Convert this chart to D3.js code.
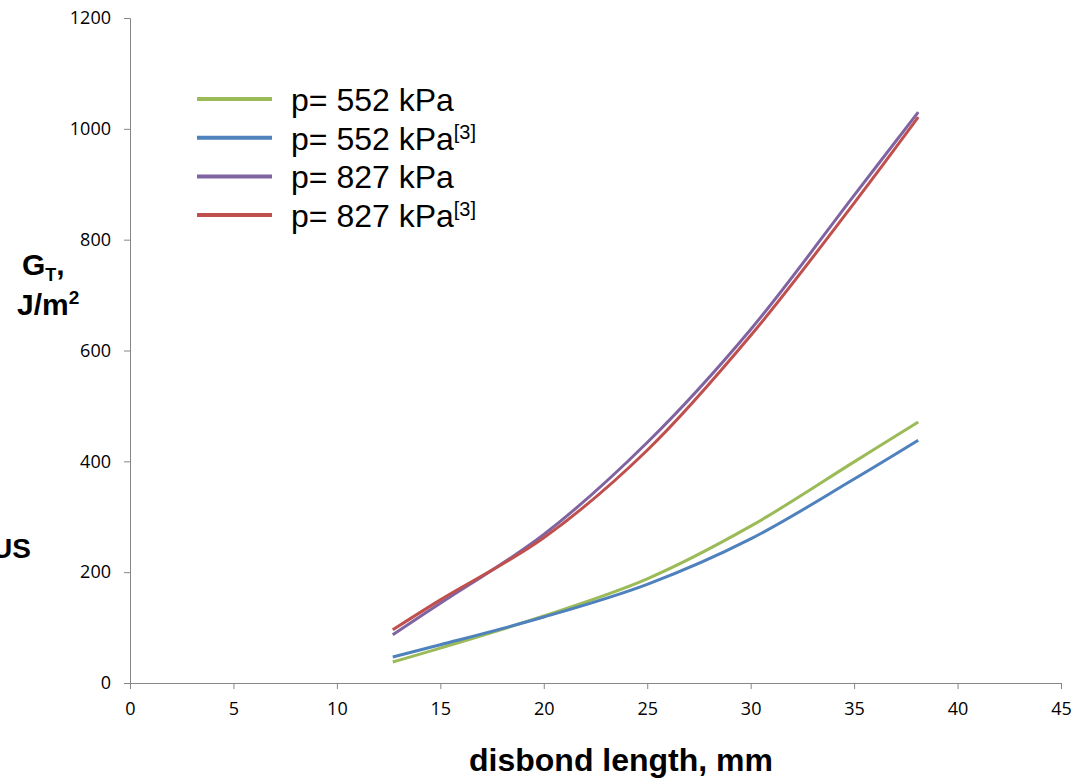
<!DOCTYPE html>
<html>
<head>
<meta charset="utf-8">
<style>
    body { margin: 0; background: #fff; }
    .tick text { font-family: "Open Sans", "Liberation Sans", sans-serif; font-size: 18px; fill: #000; }
    .domain, .tick line { stroke: #868686; }
    .title { font-family: "Liberation Sans", Arial, sans-serif; font-weight: bold; }
    .legend text { font-family: "Liberation Sans", Arial, sans-serif; font-size: 32px; }
</style>
</head>
<body>
<script src="https://cdn.jsdelivr.net/npm/d3@7"></script>
<script>
    // disbond length, mm
    var xs = [12.7, 15, 20, 25, 30, 35, 38.1];

    // G_T, J/m2
    var g552 = [38, 63, 121, 188, 283, 399, 471];
    var g552ref = [47, 69, 119, 178, 260, 368, 438];
    var g827 = [87, 144, 268, 434, 638, 880, 1030];
    var g827ref = [96, 150, 262, 420, 627, 866, 1021];

    var seriesNames = ["p= 552 kPa", "p= 552 kPa", "p= 827 kPa", "p= 827 kPa"];
    var seriesRef = [false, true, false, true];
    var colors = ["#9bbb59", "#4f81bd", "#8064a2", "#c0504d"];
    var xTicks = [0, 5, 10, 15, 20, 25, 30, 35, 40, 45];
    var yTicks = [0, 200, 400, 600, 800, 1000, 1200];

    var width = 1086, height = 780;
    var svg = d3.select("body").append("svg")
        .attr("width", width)
        .attr("height", height);

    var x = d3.scaleLinear().domain([0, 45]).range([130, 1061]);
    var y = d3.scaleLinear().domain([0, 1200]).range([683, 18]);

    svg.append("g")
        .attr("transform", "translate(0," + y(0) + ")")
        .call(d3.axisBottom(x).tickValues(xTicks).tickFormat(d3.format("d")).tickSize(6).tickPadding(13))
        .call(function (g) { g.select(".domain").attr("d", "M130,0.5H1061"); });

    svg.append("g")
        .attr("transform", "translate(" + x(0) + ",0)")
        .call(d3.axisLeft(y).tickValues(yTicks).tickFormat(d3.format("d")).tickSize(6).tickPadding(13))
        .call(function (g) { g.select(".domain").attr("d", "M-6,18.5H0.5V683"); });

    var all = [g552, g552ref, g827, g827ref];
    var line = d3.line()
        .x(function (d, i) { return x(xs[i]); })
        .y(function (d) { return y(d); })
        .curve(d3.curveCatmullRom.alpha(0.5));

    svg.append("g").selectAll("path")
        .data(all)
        .enter().append("path")
        .attr("d", line)
        .attr("fill", "none")
        .attr("stroke", function (d, i) { return colors[i]; })
        .attr("stroke-width", 3);

    // legend
    var legend = svg.append("g").attr("class", "legend");
    seriesNames.forEach(function (name, i) {
        var ly = 99 + i * 38.7;
        legend.append("line")
            .attr("x1", 197).attr("x2", 272)
            .attr("y1", ly).attr("y2", ly)
            .attr("stroke", colors[i])
            .attr("stroke-width", 4);
        var t = legend.append("text")
            .attr("x", 291).attr("y", ly + 12)
            .text(name);
        if (seriesRef[i]) {
            t.append("tspan")
                .attr("dy", -11)
                .attr("font-size", 20)
                .text("[3]");
        }
    });

    // axis titles
    svg.append("text").attr("class", "title")
        .attr("x", 621).attr("y", 771)
        .attr("text-anchor", "middle")
        .attr("font-size", 32)
        .text("disbond length, mm");

    var gt = svg.append("text").attr("class", "title")
        .attr("x", 22).attr("y", 275)
        .attr("font-size", 30);
    gt.append("tspan").text("G");
    gt.append("tspan").attr("font-size", 18).attr("dy", 6).text("T");
    gt.append("tspan").attr("dy", -6).text(",");

    var jm = svg.append("text").attr("class", "title")
        .attr("x", 17).attr("y", 315)
        .attr("font-size", 30);
    jm.append("tspan").text("J/m");
    jm.append("tspan").attr("font-size", 19).attr("dy", -11).text("2");

    svg.append("text").attr("class", "title")
        .attr("x", 31).attr("y", 558)
        .attr("text-anchor", "end")
        .attr("font-size", 28)
        .text("US");
</script>
</body>
</html>
